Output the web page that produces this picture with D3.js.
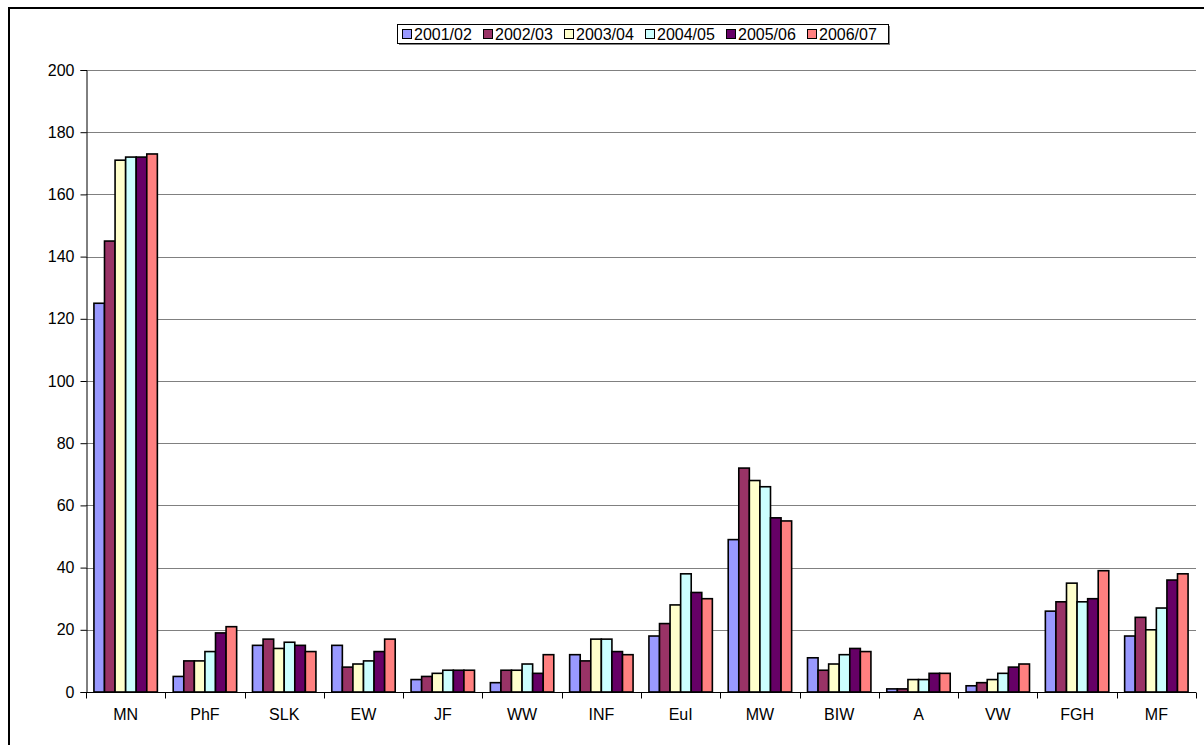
<!DOCTYPE html>
<html>
<head>
<meta charset="utf-8">
<script src="https://cdn.jsdelivr.net/npm/d3@7"></script>
<style>
  html, body { margin: 0; padding: 0; background: #fff; }
  svg { display: block; font-family: "Liberation Sans", Arial, sans-serif; }
</style>
</head>
<body>
<svg id="chart" width="1204" height="745"></svg>
<script>
// Categories and yearly series
const categories = ["MN", "PhF", "SLK", "EW", "JF", "WW", "INF", "EuI", "MW", "BIW", "A", "VW", "FGH", "MF"];
const seriesNames = ["2001/02", "2002/03", "2003/04", "2004/05", "2005/06", "2006/07"];
const s2001 = [125, 5, 15, 15, 4, 3, 12, 18, 49, 11, 1, 2, 26, 18];
const s2002 = [145, 10, 17, 8, 5, 7, 10, 22, 72, 7, 1, 3, 29, 24];
const s2003 = [171, 10, 14, 9, 6, 7, 17, 28, 68, 9, 4, 4, 35, 20];
const s2004 = [172, 13, 16, 10, 7, 9, 17, 38, 66, 12, 4, 6, 29, 27];
const s2005 = [172, 19, 15, 13, 7, 6, 13, 32, 56, 14, 6, 8, 30, 36];
const s2006 = [173, 21, 13, 17, 7, 12, 12, 30, 55, 13, 6, 9, 39, 38];
const yTicks = [0, 20, 40, 60, 80, 100, 120, 140, 160, 180, 200];
const colors = ["#9999FF", "#993366", "#FFFFCC", "#CCFFFF", "#660066", "#FF8080"];

const seriesValues = [s2001, s2002, s2003, s2004, s2005, s2006];
const fontSize = 16;

const svg = d3.select("#chart");

// outer chart frame (extends past the right/bottom edges)
svg.append("rect")
  .attr("x", 9).attr("y", 8).attr("width", 1210).attr("height", 760)
  .attr("fill", "none").attr("stroke", "#000").attr("stroke-width", 2);

const plot = { left: 86, right: 1196, top: 70, bottom: 692 };

const x0 = d3.scaleBand().domain(categories).range([plot.left, plot.right]).padding(0);
// gap width of 150% of one bar on each group: 6 bars + 1.5 bar widths
const x1 = d3.scaleBand().domain(seriesNames)
  .range([0, x0.bandwidth()])
  .paddingInner(0).paddingOuter(0.75);
const y = d3.scaleLinear().domain([0, 200]).range([plot.bottom, plot.top]);

// horizontal gridlines
svg.append("g").selectAll("line")
  .data(yTicks.filter(t => t > 0))
  .join("line")
  .attr("x1", plot.left).attr("x2", plot.right)
  .attr("y1", d => Math.round(y(d)) + 0.5).attr("y2", d => Math.round(y(d)) + 0.5)
  .attr("stroke", "#808080").attr("stroke-width", 1);

// bars
const groups = svg.append("g").selectAll("g")
  .data(categories)
  .join("g")
  .attr("transform", d => `translate(${x0(d)},0)`);

groups.selectAll("rect")
  .data((c, ci) => seriesNames.map((s, si) => ({ s, si, v: seriesValues[si][ci] })))
  .join("rect")
  .attr("x", d => x1(d.s))
  .attr("y", d => y(d.v))
  .attr("width", x1.bandwidth())
  .attr("height", d => y(0) - y(d.v))
  .attr("fill", d => colors[d.si])
  .attr("stroke", "#000").attr("stroke-width", 1.6);

// y axis
const yAxis = d3.axisLeft(y).tickValues(yTicks).tickSize(6).tickPadding(6);
const gy = svg.append("g").attr("transform", `translate(${plot.left + 0.5},0)`).call(yAxis);
gy.select(".domain").attr("stroke", "#000");
gy.selectAll(".tick line").attr("stroke", "#000");
gy.selectAll(".tick text").attr("font-size", fontSize).attr("fill", "#000")
  .attr("font-family", "Liberation Sans, Arial, sans-serif");

// x axis: ticks fall on category boundaries
const gx = svg.append("g").attr("transform", `translate(0,${plot.bottom + 0.5})`);
gx.append("line")
  .attr("x1", plot.left).attr("x2", plot.right)
  .attr("stroke", "#000");
const bounds = categories.map(c => x0(c)).concat([plot.right]);
gx.selectAll("line.tick")
  .data(bounds)
  .join("line").attr("class", "tick")
  .attr("x1", d => Math.round(d) + 0.5).attr("x2", d => Math.round(d) + 0.5)
  .attr("y1", 0).attr("y2", 6)
  .attr("stroke", "#000");
gx.selectAll("text")
  .data(categories)
  .join("text")
  .attr("x", d => x0(d) + x0.bandwidth() / 2)
  .attr("y", 27)
  .attr("text-anchor", "middle")
  .attr("font-size", fontSize)
  .attr("fill", "#000")
  .text(d => d);

// legend
const legend = { x: 397, y: 24, w: 491, h: 19 };
svg.append("rect")
  .attr("x", legend.x + 2).attr("y", legend.y + 2)
  .attr("width", legend.w).attr("height", legend.h)
  .attr("fill", "#808080");
svg.append("rect")
  .attr("x", legend.x + 0.5).attr("y", legend.y + 0.5)
  .attr("width", legend.w).attr("height", legend.h)
  .attr("fill", "#fff").attr("stroke", "#000");

const itemX = d3.scalePoint().domain(seriesNames).range([legend.x + 5, legend.x + 5 + 5 * 81]);
const items = svg.append("g").selectAll("g")
  .data(seriesNames)
  .join("g")
  .attr("transform", d => `translate(${itemX(d)},${legend.y})`);
items.append("rect")
  .attr("x", 0.5).attr("y", 5.5).attr("width", 9).attr("height", 9)
  .attr("fill", (d, i) => colors[i]).attr("stroke", "#000");
items.append("text")
  .attr("x", 12).attr("y", 15.5)
  .attr("font-size", fontSize).attr("fill", "#000")
  .text(d => d);
</script>
</body>
</html>
